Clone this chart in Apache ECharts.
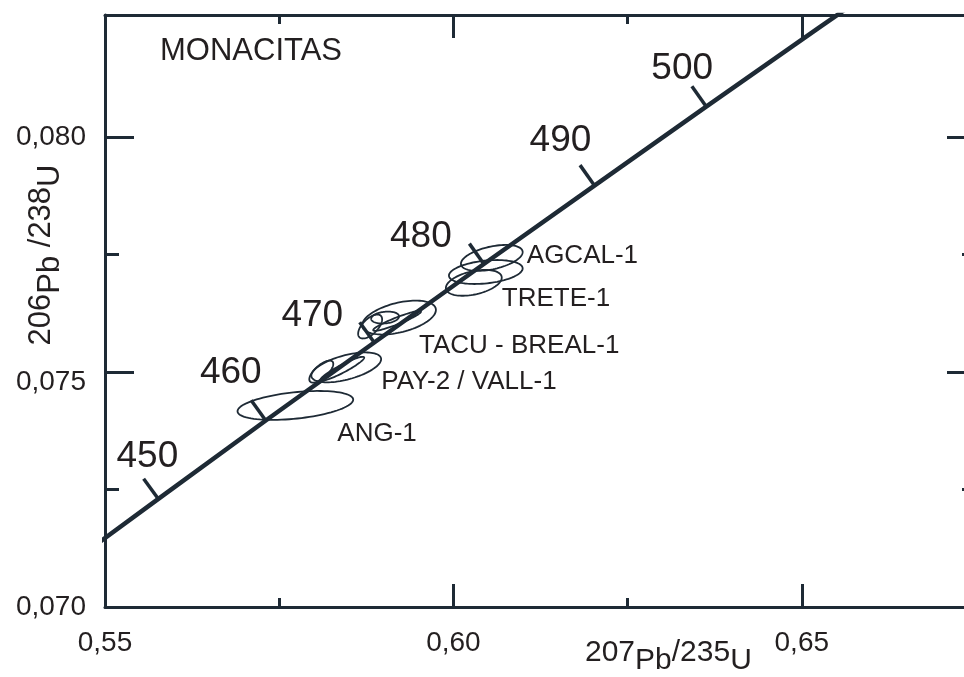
<!DOCTYPE html>
<html>
<head>
<meta charset="utf-8">
<script src="https://cdn.jsdelivr.net/npm/echarts@6/dist/echarts.min.js"></script>
<style>
  html, body { margin: 0; padding: 0; background: #ffffff; }
  #chart { width: 964px; height: 677px; }
</style>
</head>
<body>
<div id="chart"></div>
<script>
// Concordia curve (207Pb/235U vs 206Pb/238U), tabulated by age in Ma
const concordiaAge = [440, 450, 460, 470, 480, 490, 500, 510, 515];
const concordiaX = [0.54239, 0.55766, 0.57307, 0.58864, 0.60437, 0.62024, 0.63628, 0.65247, 0.66063];
const concordiaY = [0.07064, 0.07230, 0.07397, 0.07563, 0.07730, 0.07897, 0.08065, 0.08233, 0.08317];

// Ages marked with a tick and a number along the concordia
const ageMarks = [450, 460, 470, 480, 490, 500];

// Monazite error ellipses: centre, half-widths and error correlation
const ellipseSample = ['ANG-1', 'PAY-2 / VALL-1', 'PAY-2 / VALL-1', 'PAY-2 / VALL-1',
  'TACU - BREAL-1', 'TACU - BREAL-1', 'TACU - BREAL-1', 'TACU - BREAL-1',
  'AGCAL-1', 'AGCAL-1', 'TRETE-1'];
const ellipseX   = [0.57732, 0.58462, 0.58104, 0.58405, 0.59220, 0.58805, 0.59020, 0.59192, 0.60551, 0.60465, 0.60293];
const ellipseY   = [0.07429, 0.07510, 0.07501, 0.07507, 0.07616, 0.07597, 0.07616, 0.07609, 0.07743, 0.07713, 0.07690];
const ellipseSx  = [0.00830, 0.00501, 0.00172, 0.00315, 0.00529, 0.00172, 0.00200, 0.00343, 0.00443, 0.00529, 0.00401];
const ellipseSy  = [0.000308, 0.000318, 0.000234, 0.000255, 0.000361, 0.000255, 0.000127, 0.000212, 0.000276, 0.000255, 0.000276];
const ellipseRho = [0.40, 0.55, 0.70, 0.93, 0.45, 0.60, 0.20, 0.93, 0.45, 0.30, 0.40];

const sampleNames = ['ANG-1', 'PAY-2 / VALL-1', 'TACU - BREAL-1', 'TRETE-1', 'AGCAL-1'];

// Axis ticks and their labels
const xMajorTicks = [0.55, 0.60, 0.65];
const xMinorTicks = [0.575, 0.625];
const xTickLabels = ['0,55', '0,60', '0,65'];
const yMajorTicks = [0.070, 0.075, 0.080];
const yMinorTicks = [0.0725, 0.0775];
const yTickLabels = ['0,070', '0,075', '0,080'];

const titleText = 'MONACITAS';

// ---- styling ----
const ink = '#1e2a35';
const textInk = '#231f20';
const font = '"Liberation Sans", Arial, sans-serif';
const X_MIN = 0.55, X_MAX = 0.675, Y_MIN = 0.070, Y_MAX = 0.0826;

// pixel offsets of the age numbers from their point on the curve
const ageLabelOffset = [[-11, -42], [-35, -48], [-62, -27], [-63, -27], [-34, -45], [-24, -38]];
// pixel offsets of the sample names (left edge) from their first ellipse centre
const sampleLabelOffset = {
  'ANG-1': [42, 28],
  'PAY-2 / VALL-1': [35, 14],
  'TACU - BREAL-1': [20, 28],
  'TRETE-1': [28, 16],
  'AGCAL-1': [35, -2]
};

function findIndex(list, v) {
  for (let i = 0; i < list.length; i++) if (Math.abs(list[i] - v) < 1e-9) return i;
  return -1;
}

function tickAxis(pos, min, max, values, len, showLine, labels, labelMargin, labelRich) {
  const ax = {
    type: 'value', gridIndex: 0, position: pos, min: min, max: max,
    axisLine: { show: showLine, onZero: false, lineStyle: { color: ink, width: 3 } },
    axisTick: { show: true, inside: true, length: len, customValues: values,
      lineStyle: { color: ink, width: 3 } },
    splitLine: { show: false },
    axisLabel: { show: false }
  };
  if (labels) {
    ax.axisLabel = {
      show: true, customValues: values, margin: labelMargin,
      color: textInk, fontFamily: font, fontSize: 28,
      formatter: function (v) {
        const i = findIndex(values, v);
        const s = i >= 0 ? labels[i] : '';
        return labelRich && labelRich[s] ? '{' + labelRich[s] + '|' + s + '}' : s;
      },
      rich: { low: { padding: [20, 0, 0, 0], fontSize: 28, fontFamily: font, color: textInk } }
    };
  }
  return ax;
}

// data for the series
const curveData = concordiaX.map((x, i) => [x, concordiaY[i]]);
const ellipseData = ellipseX.map((x, i) => [x, ellipseY[i], ellipseSx[i], ellipseSy[i], ellipseRho[i]]);
const ageData = ageMarks.map((a) => {
  const i = concordiaAge.indexOf(a);
  return [concordiaX[i], concordiaY[i], concordiaX[i + 1], concordiaY[i + 1], a];
});
const sampleData = sampleNames.map((n) => {
  const i = ellipseSample.indexOf(n);
  return { value: [ellipseX[i], ellipseY[i]], name: n };
});

const chart = echarts.init(document.getElementById('chart'), null, { renderer: 'canvas' });

chart.setOption({
  backgroundColor: '#ffffff',
  animation: false,
  grid: { left: 105, top: 15, width: 871, height: 592, containLabel: false, outerBoundsMode: 'none' },
  xAxis: [
    tickAxis('bottom', X_MIN, X_MAX, xMajorTicks, 23, true, xTickLabels, 22),
    tickAxis('bottom', X_MIN, X_MAX, xMinorTicks, 9, false),
    tickAxis('top', X_MIN, X_MAX, xMajorTicks, 23, true),
    tickAxis('top', X_MIN, X_MAX, xMinorTicks, 9, false)
  ],
  yAxis: [
    tickAxis('left', Y_MIN, Y_MAX, yMajorTicks, 29, true, yTickLabels, 19, { '0,075': 'low' }),
    tickAxis('left', Y_MIN, Y_MAX, yMinorTicks, 14, false),
    tickAxis('right', Y_MIN, Y_MAX, yMajorTicks, 29, true),
    tickAxis('right', Y_MIN, Y_MAX, yMinorTicks, 14, false)
  ],
  graphic: [
    { type: 'text', x: 160, y: 51, z: 10,
      style: { text: titleText, fontSize: 31, fontFamily: font, fill: textInk,
        align: 'left', verticalAlign: 'middle' } },
    { type: 'text', x: 585, y: 657, z: 10,
      style: {
        text: '{n|207}{e|Pb}{n|/235}{e|U}', align: 'left', verticalAlign: 'middle',
        rich: {
          n: { fontSize: 30, fontFamily: font, fill: textInk, lineHeight: 32, padding: [0, 0, 8, 0] },
          e: { fontSize: 30, fontFamily: font, fill: textInk, lineHeight: 32, padding: [8, 0, 0, 0] }
        }
      } },
    { type: 'text', x: 46, y: 255, rotation: Math.PI / 2, z: 10,
      style: {
        text: '{n|206}{e|Pb }{n|/238}{e|U}', align: 'center', verticalAlign: 'middle',
        rich: {
          n: { fontSize: 31, fontFamily: font, fill: textInk, lineHeight: 32, padding: [0, 0, 9, 0] },
          e: { fontSize: 31, fontFamily: font, fill: textInk, lineHeight: 32, padding: [9, 0, 0, 0] }
        }
      } }
  ],
  series: [
    {
      name: 'ellipses', type: 'custom', xAxisIndex: 0, yAxisIndex: 0, z: 2,
      data: ellipseData,
      renderItem: function (params, api) {
        const cx = api.value(0), cy = api.value(1), sx = api.value(2), sy = api.value(3), r = api.value(4);
        const k = Math.sqrt(1 - r * r);
        const pts = [];
        for (let j = 0; j < 90; j++) {
          const t = j / 90 * Math.PI * 2;
          pts.push(api.coord([cx + sx * Math.cos(t), cy + sy * (r * Math.cos(t) + k * Math.sin(t))]));
        }
        return { type: 'polygon', shape: { points: pts },
          style: { fill: 'none', stroke: ink, lineWidth: 1.8 } };
      }
    },
    {
      name: 'concordia', type: 'line', xAxisIndex: 0, yAxisIndex: 0, z: 3,
      data: curveData, showSymbol: false, symbol: 'none', clip: true,
      lineStyle: { color: ink, width: 4.5 }
    },
    {
      name: 'ages', type: 'custom', xAxisIndex: 0, yAxisIndex: 0, z: 4,
      data: ageData,
      renderItem: function (params, api) {
        const p = api.coord([api.value(0), api.value(1)]);
        const q = api.coord([api.value(2), api.value(3)]);
        let dx = q[0] - p[0], dy = q[1] - p[1];
        const d = Math.sqrt(dx * dx + dy * dy);
        dx /= d; dy /= d;
        const nx = dy, ny = -dx;   // normal pointing up-left of the curve
        const len = 25;
        const off = ageLabelOffset[params.dataIndex];
        return {
          type: 'group',
          children: [
            { type: 'line', shape: { x1: p[0], y1: p[1], x2: p[0] + nx * len, y2: p[1] + ny * len },
              style: { stroke: ink, lineWidth: 3.5 } },
            { type: 'text', x: p[0] + off[0], y: p[1] + off[1],
              style: { text: String(api.value(4)), fontSize: 37, fontFamily: font, fill: textInk,
                align: 'center', verticalAlign: 'middle' } }
          ]
        };
      }
    },
    {
      name: 'samples', type: 'custom', xAxisIndex: 0, yAxisIndex: 0, z: 5,
      data: sampleData,
      renderItem: function (params, api) {
        const p = api.coord([api.value(0), api.value(1)]);
        const name = sampleNames[params.dataIndex];
        const off = sampleLabelOffset[name];
        return { type: 'text', x: p[0] + off[0], y: p[1] + off[1],
          style: { text: name, fontSize: 26, fontFamily: font, fill: textInk,
            align: 'left', verticalAlign: 'middle' } };
      }
    }
  ]
});
</script>
</body>
</html>
